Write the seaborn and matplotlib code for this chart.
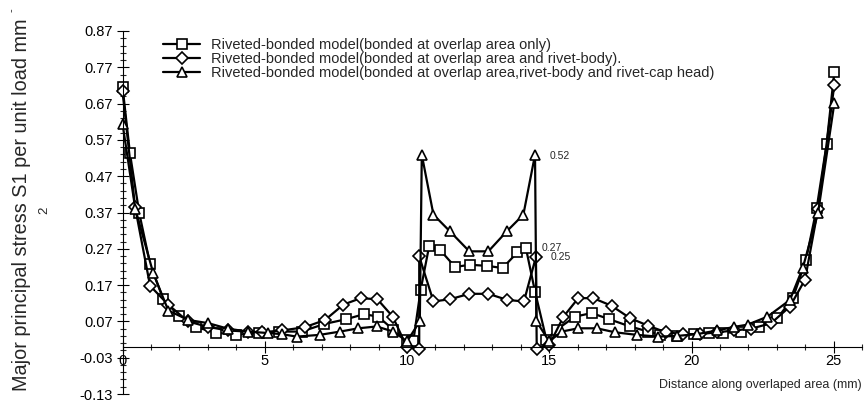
import numpy as np
import pandas as pd
import matplotlib
matplotlib.use('Agg')
import matplotlib.pyplot as plt
import seaborn as sns
from matplotlib.ticker import MultipleLocator, FixedLocator

# --- data ---
# bonded at overlap area only (squares)
x_sq = [0, 0.26, 0.59, 0.97, 1.43, 1.98, 2.58, 3.3, 4.0, 4.8, 5.5, 6.3, 7.1, 7.86,
        8.49, 8.99, 9.52, 9.99, 10.22, 10.48, 10.78, 11.16, 11.69, 12.21, 12.82,
        13.36, 13.88, 14.18, 14.5, 14.9, 15.26, 15.9, 16.49, 17.11, 17.84, 18.48,
        18.9, 19.5, 20.1, 20.6, 21.12, 21.73, 22.38, 23.02, 23.56, 24.02, 24.4,
        24.75, 25.02]
y_sq = [0.717, 0.534, 0.368, 0.228, 0.132, 0.085, 0.054, 0.039, 0.033, 0.038,
        0.042, 0.042, 0.063, 0.076, 0.09, 0.083, 0.047, 0.019, 0.015, 0.157,
        0.278, 0.267, 0.22, 0.226, 0.223, 0.217, 0.26, 0.272, 0.152, 0.02, 0.047,
        0.083, 0.093, 0.076, 0.056, 0.042, 0.033, 0.03, 0.035, 0.038, 0.038,
        0.042, 0.054, 0.079, 0.134, 0.238, 0.382, 0.559, 0.758]

# bonded at overlap area and rivet-body (diamonds)
x_di = [0, 0.44, 0.97, 1.61, 2.3, 3.0, 3.7, 4.4, 4.9, 5.6, 6.41, 7.12, 7.76, 8.37,
        8.96, 9.5, 9.99, 10.43, 10.43, 10.93, 11.51, 12.19, 12.86, 13.53, 14.11,
        14.53, 14.56, 15.0, 15.5, 16.02, 16.55, 17.19, 17.84, 18.48, 19.1, 19.7,
        20.3, 20.9, 21.5, 22.1, 22.8, 23.46, 23.99, 24.45, 25.02]
y_di = [0.705, 0.386, 0.168, 0.116, 0.07, 0.055, 0.045, 0.042, 0.04, 0.045, 0.054,
        0.074, 0.116, 0.134, 0.131, 0.083, 0.0, -0.005, 0.249, 0.125, 0.131, 0.146,
        0.146, 0.129, 0.125, 0.247, -0.005, 0.005, 0.083, 0.134, 0.134, 0.113,
        0.079, 0.058, 0.04, 0.035, 0.035, 0.04, 0.045, 0.05, 0.065, 0.111, 0.185,
        0.38, 0.722]

# bonded at overlap area, rivet-body and rivet-cap head (triangles)
x_tr = [0, 0.45, 1.08, 1.61, 2.31, 3.02, 3.7, 4.4, 5.1, 5.6, 6.12, 6.94, 7.65, 8.29,
        8.93, 9.52, 10.0, 10.45, 10.52, 10.93, 11.51, 12.19, 12.86, 13.53, 14.09,
        14.5, 14.55, 15.0, 15.44, 16.02, 16.67, 17.31, 18.07, 18.83, 19.5, 20.2,
        20.9, 21.5, 21.97, 22.67, 23.46, 23.91, 24.45, 25.02]
y_tr = [0.615, 0.38, 0.203, 0.10, 0.074, 0.065, 0.05, 0.042, 0.038, 0.035, 0.028,
        0.033, 0.042, 0.051, 0.056, 0.042, 0.015, 0.07, 0.529, 0.364, 0.318, 0.263,
        0.263, 0.32, 0.364, 0.529, 0.07, 0.015, 0.042, 0.051, 0.051, 0.04, 0.033,
        0.028, 0.03, 0.035, 0.045, 0.055, 0.061, 0.083, 0.129, 0.217, 0.37, 0.671]

labels = ['Riveted-bonded model(bonded at overlap area only)',
          'Riveted-bonded model(bonded at overlap area and rivet-body).',
          'Riveted-bonded model(bonded at overlap area,rivet-body and rivet-cap head)']
y_ticks = [-0.13, -0.03, 0.07, 0.17, 0.27, 0.37, 0.47, 0.57, 0.67, 0.77, 0.87]
x_ticks = [0, 5, 10, 15, 20, 25]

sns.set_style('ticks')
plt.rcParams['font.family'] = ['Liberation Sans', 'DejaVu Sans']
plt.rcParams['axes.unicode_minus'] = False

fig = plt.figure(figsize=(8.66, 4.12), dpi=100)
ax = fig.add_axes([122.5 / 866, 18 / 412, 739.7 / 866, 363 / 412])

series = [(x_sq, y_sq, 's', 7.5), (x_di, y_di, 'D', 5.8), (x_tr, y_tr, '^', 7.8)]
for (xs, ys, mk, ms), lab in zip(series, labels):
    sns.lineplot(x=xs, y=ys, ax=ax, estimator=None, sort=False, color='black',
                 linewidth=1.6, marker=mk, markersize=ms, markerfacecolor='white',
                 markeredgecolor='black', markeredgewidth=1.2, label=lab,
                 clip_on=False)

ax.set_xlim(0, 26)
ax.set_ylim(-0.13, 0.87)
ax.spines['bottom'].set_position(('data', 0))
ax.spines['top'].set_visible(False)
ax.spines['right'].set_visible(False)
for s in ['left', 'bottom']:
    ax.spines[s].set_linewidth(0.8)
    ax.spines[s].set_color('black')

ax.set_xticks(x_ticks)
ax.xaxis.set_minor_locator(MultipleLocator(1))
ax.set_yticks(y_ticks)
ax.set_yticklabels(['%.2f' % v for v in y_ticks])
ax.yaxis.set_minor_locator(FixedLocator(np.round(np.arange(-0.13, 0.871, 0.02), 3)))
ax.tick_params(which='major', direction='inout', length=8, width=0.8, labelsize=10.5,
               colors='black', pad=1)
ax.tick_params(which='minor', direction='inout', length=5, width=0.8)
ax.tick_params(axis='y', pad=3)

# value notes beside the rivet peaks
ax.text(15.03, 0.527, '0.52', fontsize=7.5, va='center')
ax.text(14.73, 0.273, '0.27', fontsize=7.5, va='center')
ax.text(15.05, 0.248, '0.25', fontsize=7.5, va='center')

leg = ax.legend(loc='upper left', bbox_to_anchor=(163 / 866, 1 - 38 / 412),
                bbox_transform=fig.transFigure, frameon=False, fontsize=10.5,
                handlelength=2.55, handletextpad=0.75, labelspacing=0.0,
                borderpad=0, borderaxespad=0)

fig.text(862 / 866, 1 - 385 / 412, 'Distance along overlaped area (mm)',
         fontsize=9, ha='right', va='center')
fig.text(22 / 866, 1 - 205 / 412, 'Major principal stress S1 per unit load mm',
         fontsize=14.3, rotation=90, ha='center', va='center')
fig.text(12 / 866, 1 - 10 / 412, '-', fontsize=8, rotation=90, ha='center', va='center')
fig.text(44 / 866, 1 - 210 / 412, '2', fontsize=9.5, rotation=90, ha='center', va='center')

plt.savefig('out.png', dpi=100)
